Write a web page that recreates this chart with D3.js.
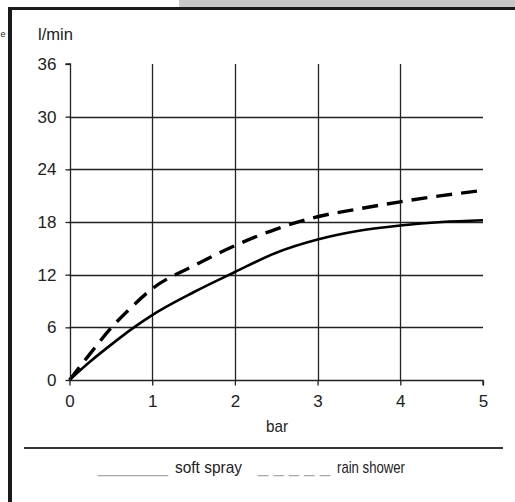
<!DOCTYPE html>
<html>
<head>
<meta charset="utf-8">
<script src="https://cdn.jsdelivr.net/npm/d3@7"></script>
<style>
  html, body { margin: 0; padding: 0; background: #fff; }
  svg { display: block; }
  text { font-family: "Liberation Sans Narrow", "Arial Narrow", "Liberation Sans", sans-serif; fill: #222; }
</style>
</head>
<body>
<script>
// ---- data ----
const pressureBar = [0, 0.25, 0.5, 0.75, 1, 1.5, 2, 2.5, 3, 3.5, 4, 4.5, 5];
const softSpray   = [0, 2.1, 4.0, 5.8, 7.4, 10.0, 12.3, 14.5, 16.0, 17.0, 17.6, 18.0, 18.2];
const rainShower  = [0, 3.0, 5.9, 8.3, 10.4, 13.0, 15.3, 17.2, 18.6, 19.5, 20.3, 21.0, 21.6];
const xTicks = [0, 1, 2, 3, 4, 5];
const yTicks = [0, 6, 12, 18, 24, 30, 36];
const seriesNames = ["soft spray", "rain shower"];
const xTitle = "bar";
const yTitle = "l/min";

const W = 515, H = 502;
const svg = d3.select("body").append("svg").attr("width", W).attr("height", H);

// frame pieces (page context)
svg.append("rect").attr("x", 179).attr("y", 0).attr("width", W - 179).attr("height", 7).attr("fill", "#c8c8c8");
svg.append("rect").attr("x", 8).attr("y", 7).attr("width", W - 8).attr("height", 3).attr("fill", "#1a1a1a");
svg.append("rect").attr("x", 8).attr("y", 7).attr("width", 4).attr("height", H - 7).attr("fill", "#1a1a1a");
svg.append("text").attr("x", 0.5).attr("y", 37).attr("font-size", 9).text("e");

const x = d3.scaleLinear().domain([0, 5]).range([69.5, 483]);
const y = d3.scaleLinear().domain([0, 36]).range([380, 64]);

const g = svg.append("g");

// horizontal gridlines (not at top)
g.selectAll("line.hg").data(yTicks.filter(v => v > 0 && v < 36)).enter().append("line")
  .attr("x1", x(0)).attr("x2", x(5)).attr("y1", d => Math.round(y(d)) + 0.5).attr("y2", d => Math.round(y(d)) + 0.5)
  .attr("stroke", "#222").attr("stroke-width", 1.3);
// vertical gridlines
g.selectAll("line.vg").data(xTicks.filter(v => v > 0 && v < 5)).enter().append("line")
  .attr("x1", d => Math.round(x(d)) + 0.5).attr("x2", d => Math.round(x(d)) + 0.5).attr("y1", y(36)).attr("y2", y(0))
  .attr("stroke", "#222").attr("stroke-width", 1.3);

// axes
const yAxis = d3.axisLeft(y).tickValues(yTicks).tickSize(5).tickPadding(9).tickFormat(d3.format("d"));
const xAxis = d3.axisBottom(x).tickValues(xTicks).tickSize(5).tickPadding(9).tickFormat(d3.format("d"));
const ya = svg.append("g").attr("transform", `translate(${Math.round(x(0)) + 0.5},0)`).call(yAxis);
const xa = svg.append("g").attr("transform", `translate(0,${Math.round(y(0)) + 0.5})`).call(xAxis);
[ya, xa].forEach(a => {
  a.select(".domain").attr("stroke", "#222").attr("stroke-width", 1.3);
  a.selectAll(".tick line").attr("stroke", "#222").attr("stroke-width", 1.3);
  a.selectAll(".tick text").attr("font-size", 17).attr("fill", "#222")
    .style("font-family", "'Liberation Sans Narrow', 'Arial Narrow', sans-serif");
});
ya.select(".domain").attr("d", `M-5,${y(36)}H0V${y(0)}`);
xa.select(".domain").attr("d", `M${x(0)},0H${x(5)}V5`);

// axis titles
svg.append("text").attr("x", 38).attr("y", 40).attr("font-size", 17)
  .attr("textLength", 35).attr("lengthAdjust", "spacingAndGlyphs").text(yTitle);
svg.append("text").attr("x", 266).attr("y", 432).attr("font-size", 17)
  .attr("textLength", 22).attr("lengthAdjust", "spacingAndGlyphs").text(xTitle);

// lines
const line = d3.line().x((d, i) => x(pressureBar[i])).y(d => y(d)).curve(d3.curveMonotoneX);
g.append("path").datum(softSpray).attr("d", line).attr("fill", "none")
  .attr("stroke", "#000").attr("stroke-width", 2.6);
g.append("path").datum(rainShower).attr("d", line).attr("fill", "none")
  .attr("stroke", "#000").attr("stroke-width", 3.4).attr("stroke-dasharray", "16,9");

// separator
svg.append("line").attr("x1", 24).attr("x2", 503).attr("y1", 448).attr("y2", 448).attr("stroke", "#333").attr("stroke-width", 2);

// legend
const lg = svg.append("g");
lg.append("text").attr("x", 98).attr("y", 473).attr("font-size", 17).style("fill", "#aaa")
  .attr("textLength", 70).attr("lengthAdjust", "spacingAndGlyphs").text("________");
lg.append("text").attr("x", 175).attr("y", 473).attr("font-size", 17)
  .attr("textLength", 67).attr("lengthAdjust", "spacingAndGlyphs").text(seriesNames[0]);
lg.append("text").attr("x", 258).attr("y", 473).attr("font-size", 17).style("fill", "#aaa").attr("xml:space", "preserve")
  .attr("textLength", 72).attr("lengthAdjust", "spacingAndGlyphs").text("_ _ _ _ _");
lg.append("text").attr("x", 337).attr("y", 473).attr("font-size", 17)
  .attr("textLength", 68).attr("lengthAdjust", "spacingAndGlyphs").text(seriesNames[1]);
</script>
</body>
</html>
